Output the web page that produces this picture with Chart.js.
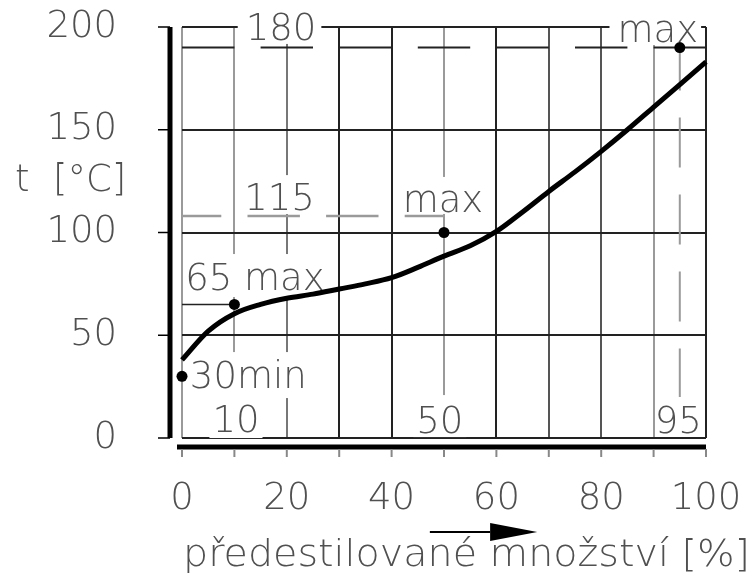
<!DOCTYPE html>
<html lang="cs">
<head>
<meta charset="UTF-8">
<title>Teplota v závislosti na předestilovaném množství</title>
<style>
  body { margin: 0; background: #fff; }
  #wrap { width: 754px; height: 583px; }
</style>
<script src="https://cdn.jsdelivr.net/npm/chart.js"></script>
</head>
<body>
<div id="wrap"><canvas id="chart" width="754" height="583"></canvas></div>
<script>
// destilační křivka
const xValues = [0, 5, 10, 15, 20, 25, 30, 35, 40, 45, 50, 55, 60, 65, 70, 75, 80, 85, 90, 95, 100];
const tValues = [38, 52, 60.5, 65, 68, 70, 72.5, 75, 78, 83, 88.5, 93.5, 100.5, 110, 120, 129.5, 139.5, 150, 161, 172, 183];

// body min / max
const markX = [0, 10, 50, 95];
const markT = [30, 65, 100, 190];

// vodorovné kóty (čárkované čáry)
const dashT = [190, 108];
const dashTo = [100, 50];

// osy
const xTickStep = 10;
const xLabelStep = 20;
const yTickStep = 50;

const FONT = "'DejaVu Sans', sans-serif";
const FS = 37;
const TEXT = '#505050';

// popisky v grafu: x, y = účaří v hodnotách os, box = bílé pozadí (l, r, t, b v px)
const notes = [
  { text: '180', x: 18.9, y: 193.7, align: 'center', box: [8, 5, 34, 4] },
  { text: 'max', x: 90.8, y: 192.7, align: 'center', box: [8, 3, 34, 3] },
  { text: '115', x: 18.6, y: 110.9, align: 'center', box: [3, 3, 35, 4] },
  { text: 'max', x: 49.8, y: 110, align: 'center', box: [4, 4, 35, 2] },
  { text: '65 max', x: 0.6, y: 72, align: 'left', box: [0, 3, 36, 7] },
  { text: '30min', x: 1.5, y: 24.3, align: 'left', box: [2, 3, 36, 10] },
  { text: '10', x: 10.3, y: 2.9, align: 'center', box: [3, 3, 40, 6] },
  { text: '50', x: 49.2, y: 2.4, align: 'center', box: [3, 3, 38, 4] },
  { text: '95', x: 94.7, y: 2.4, align: 'center', box: null }
];

const gridShade = { 0: '#9a9a9a', 10: '#9a9a9a', 20: '#777', 30: '#222', 40: '#222', 50: '#9a9a9a',
  60: '#222', 70: '#555', 80: '#555', 90: '#9a9a9a', 100: '#222' };

const drawing = {
  id: 'drawing',
  beforeDatasetsDraw(chart) {
    const { ctx, chartArea: a, scales: { x, y } } = chart;
    const ux = x.getPixelForValue(xTickStep) - x.getPixelForValue(0);
    ctx.save();
    ctx.font = `200 ${FS}px ${FONT}`;

    // bílé pozadí pod popisky (přeruší mřížku)
    ctx.fillStyle = '#fff';
    notes.forEach(n => {
      if (!n.box) return;
      const w = ctx.measureText(n.text).width;
      let left = x.getPixelForValue(n.x);
      if (n.align === 'center') left -= w / 2;
      const base = y.getPixelForValue(n.y);
      const [bl, br, bt, bb] = n.box;
      ctx.fillRect(left - bl, base - bt, w + bl + br, bt + bb);
    });

    // čárkované kóty
    ctx.lineCap = 'butt';
    dashT.forEach((t, i) => {
      ctx.beginPath();
      ctx.setLineDash([ux, ux / 2]);
      ctx.lineDashOffset = i === 0 ? 0 : ux / 4;
      ctx.strokeStyle = i === 0 ? '#222' : '#9a9a9a';
      ctx.lineWidth = i === 0 ? 2 : 2.5;
      const py = y.getPixelForValue(t);
      ctx.moveTo(x.getPixelForValue(0), py);
      ctx.lineTo(x.getPixelForValue(dashTo[i]), py);
      ctx.stroke();
    });

    // svislá kóta 95
    ctx.beginPath();
    ctx.setLineDash([50, 27]);
    ctx.lineDashOffset = 7;
    ctx.strokeStyle = '#9a9a9a';
    ctx.lineWidth = 2;
    ctx.moveTo(x.getPixelForValue(markX[3]), y.getPixelForValue(markT[3]));
    ctx.lineTo(x.getPixelForValue(markX[3]), y.getPixelForValue(20));
    ctx.stroke();
    ctx.setLineDash([]);

    // krátká čára 65
    ctx.beginPath();
    ctx.strokeStyle = '#222';
    ctx.lineWidth = 1.5;
    ctx.moveTo(x.getPixelForValue(0), y.getPixelForValue(markT[1]));
    ctx.lineTo(x.getPixelForValue(markX[1]), y.getPixelForValue(markT[1]));
    ctx.stroke();

    // silná osa y vlevo
    const axX = a.left - 12;
    ctx.beginPath();
    ctx.strokeStyle = '#000';
    ctx.lineWidth = 5;
    ctx.moveTo(axX, y.getPixelForValue(y.max));
    ctx.lineTo(axX, y.getPixelForValue(y.min));
    ctx.stroke();
    ctx.lineWidth = 1.5;
    y.ticks.forEach(t => {
      const py = y.getPixelForValue(t.value);
      ctx.beginPath();
      ctx.moveTo(axX - 12, py);
      ctx.lineTo(axX, py);
      ctx.stroke();
    });

    // silná osa x dole
    const axY = a.bottom + 9;
    ctx.beginPath();
    ctx.lineWidth = 5;
    ctx.moveTo(a.left - 5, axY);
    ctx.lineTo(x.getPixelForValue(x.max), axY);
    ctx.stroke();
    ctx.strokeStyle = '#888';
    ctx.lineWidth = 2;
    x.ticks.forEach(t => {
      const px = x.getPixelForValue(t.value);
      ctx.beginPath();
      ctx.moveTo(px, axY + 2);
      ctx.lineTo(px, axY + 10);
      ctx.stroke();
    });

    // šipka
    const ay = a.bottom + 94;
    const ax0 = x.getPixelForValue(47.3), ax1 = x.getPixelForValue(58.8), ax2 = x.getPixelForValue(67.8);
    ctx.strokeStyle = '#000';
    ctx.fillStyle = '#000';
    ctx.beginPath();
    ctx.moveTo(ax0, ay);
    ctx.lineTo(ax1, ay);
    ctx.stroke();
    ctx.beginPath();
    ctx.moveTo(ax1, ay - 9);
    ctx.lineTo(ax2, ay);
    ctx.lineTo(ax1, ay + 9);
    ctx.closePath();
    ctx.fill();

    // texty
    ctx.fillStyle = TEXT;
    ctx.textBaseline = 'alphabetic';
    notes.forEach(n => {
      ctx.textAlign = n.align;
      ctx.fillText(n.text, x.getPixelForValue(n.x), y.getPixelForValue(n.y));
    });

    // popisy os
    ctx.textAlign = 'left';
    ctx.textBaseline = 'middle';
    ctx.fillText('t  [°C]', a.left - 167, y.getPixelForValue(125));

    // popis osy x, roztažený na šířku jako v předloze
    ctx.textBaseline = 'alphabetic';
    ctx.font = `200 38px ${FONT}`;
    const title = 'předestilované množství [%]';
    const tx0 = a.left + 1, tx1 = a.right + 44;
    const sx = (tx1 - tx0) / ctx.measureText(title).width;
    ctx.translate(tx0, a.bottom + 128);
    ctx.scale(sx, 1);
    ctx.fillText(title, 0, 0);
    ctx.restore();
  }
};

const tickFont = { family: FONT, size: FS, weight: '200' };

new Chart(document.getElementById('chart'), {
  type: 'scatter',
  data: {
    datasets: [
      {
        data: xValues.map((v, i) => ({ x: v, y: tValues[i] })),
        showLine: true,
        borderColor: '#000',
        borderWidth: 5,
        pointRadius: 0,
        cubicInterpolationMode: 'monotone',
        clip: false
      },
      {
        data: markX.map((v, i) => ({ x: v, y: markT[i] })),
        pointRadius: 5.5,
        backgroundColor: '#000',
        borderWidth: 0,
        clip: false
      }
    ]
  },
  options: {
    responsive: false,
    animation: false,
    layout: { padding: { top: 27, right: 48, bottom: 0, left: 0 } },
    plugins: { legend: { display: false }, tooltip: { enabled: false } },
    scales: {
      x: {
        type: 'linear',
        min: 0,
        max: 100,
        ticks: {
          stepSize: xTickStep,
          autoSkip: false,
          maxRotation: 0,
          padding: 0,
          color: TEXT,
          font: tickFont,
          callback: v => (v % xLabelStep === 0 ? String(v) : '')
        },
        grid: {
          drawTicks: true,
          tickLength: 39,
          tickColor: 'rgba(0,0,0,0)',
          lineWidth: 2,
          color: c => gridShade[c.tick ? c.tick.value : 0] || '#222'
        },
        border: { display: false },
        afterFit(s) { s.height = 145; }
      },
      y: {
        min: 0,
        max: 200,
        ticks: { stepSize: yTickStep, padding: 0, color: TEXT, font: tickFont },
        grid: { drawTicks: true, tickLength: 65, tickColor: 'rgba(0,0,0,0)', lineWidth: 2, color: '#222' },
        border: { display: false },
        afterFit(s) { s.width = 182; }
      }
    }
  },
  plugins: [drawing]
});
</script>
</body>
</html>
